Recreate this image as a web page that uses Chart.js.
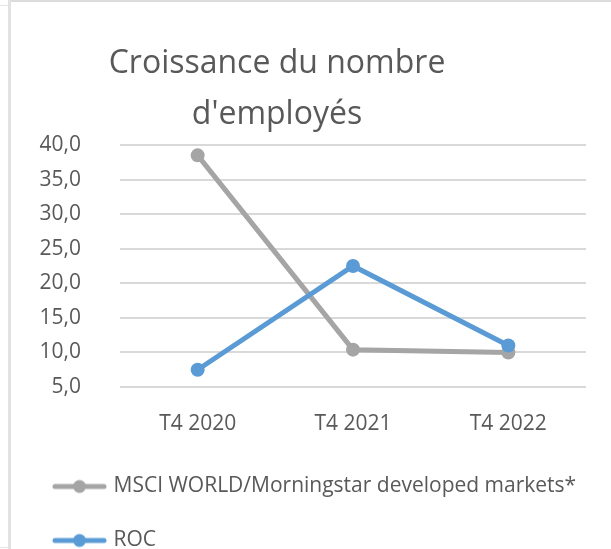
<!DOCTYPE html>
<html>
<head>
<meta charset="utf-8">
<script src="https://cdn.jsdelivr.net/npm/chart.js@4/dist/chart.umd.min.js"></script>
<style>
  html, body { margin: 0; padding: 0; background: #fff; }
  #wrap { position: absolute; left: 0; top: 0; width: 611px; height: 549px; }
  .edge { position: absolute; }
</style>
</head>
<body>
<div class="edge" style="left:8px;top:0;width:3px;height:549px;background:#e2e2e2"></div>
<div class="edge" style="left:11px;top:0;width:600px;height:2px;background:#dcdcdc"></div>
<div class="edge" style="left:0;top:5px;width:8px;height:1px;background:#e6e6e6"></div>
<div class="edge" style="left:0;top:547px;width:8px;height:1px;background:#e6e6e6"></div>
<div id="wrap"><canvas id="chart__line"></canvas></div>
<script>
(() => {

  // Data
  const categories = ['T4 2020', 'T4 2021', 'T4 2022'];
  const msciValues = [38.5, 10.4, 10.0];
  const rocValues = [7.5, 22.5, 11.0];
  const titleLines = ['Croissance du nombre', "d'employés"];

  const textColor = '#595959';
  const fontName = '"Open Sans", "DejaVu Sans", sans-serif';

  // Legend icon: short line with a dot in the middle
  const makeIcon = (color) => {
    const c = document.createElement('canvas');
    c.width = 55;
    c.height = 16;
    const g = c.getContext('2d');
    g.strokeStyle = color;
    g.lineWidth = 5;
    g.lineCap = 'round';
    g.beginPath();
    g.moveTo(3, 8);
    g.lineTo(52, 8);
    g.stroke();
    g.fillStyle = color;
    g.beginPath();
    g.arc(27.5, 8, 6.5, 0, Math.PI * 2);
    g.fill();
    return c;
  };

  // Title drawn left of the plot centre, as in the original
  const titlePlugin = {
    id: 'leftTitle',
    afterDraw(chart) {
      const ctx = chart.ctx;
      ctx.save();
      ctx.font = '32px ' + fontName;
      ctx.fillStyle = textColor;
      ctx.textAlign = 'center';
      ctx.textBaseline = 'alphabetic';
      ctx.fillText(titleLines[0], 277, 73);
      ctx.fillText(titleLines[1], 277, 124);
      ctx.restore();
    }
  };

  const ctxLine = document.querySelector('#chart__line');

  const chartLine = new Chart(ctxLine, {
    type: 'line',
    data: {
      labels: categories,
      datasets: [{
        label: 'MSCI WORLD/Morningstar developed markets*',
        data: msciValues,
        borderColor: '#A5A5A5',
        backgroundColor: '#A5A5A5',
        pointBackgroundColor: '#A5A5A5',
        borderWidth: 5,
        pointRadius: 7,
        pointBorderWidth: 0,
        order: 1
      },
      {
        label: 'ROC',
        data: rocValues,
        borderColor: '#5B9BD5',
        backgroundColor: '#5B9BD5',
        pointBackgroundColor: '#5B9BD5',
        borderWidth: 5,
        pointRadius: 7,
        pointBorderWidth: 0,
        order: 0
      }]
    },
    options: {
      responsive: true,
      maintainAspectRatio: false,
      animation: false,
      layout: {
        padding: { left: 23, right: 25, top: 145, bottom: -12 }
      },
      scales: {
        x: {
          offset: true,
          grid: { display: false },
          border: { display: false },
          ticks: {
            color: textColor,
            font: { family: fontName, size: 21 },
            padding: 16,
            maxRotation: 0
          },
          afterFit: (scale) => { scale.height = 56; }
        },
        y: {
          min: 5,
          max: 40,
          grid: { color: '#d9d9d9', lineWidth: 2, drawTicks: false },
          border: { display: false },
          ticks: {
            stepSize: 5,
            color: textColor,
            font: { family: fontName, size: 21 },
            padding: 39,
            callback: (v) => v.toFixed(1).replace('.', ',')
          },
          afterFit: (scale) => { scale.width = 97; }
        }
      },
      plugins: {
        title: { display: false },
        tooltip: { enabled: false },
        legend: {
          position: 'bottom',
          align: 'start',
          labels: {
            color: textColor,
            font: { family: fontName, size: 21 },
            padding: 33,
            usePointStyle: true,
            pointStyleWidth: 47,
            sort: (a, b) => a.datasetIndex - b.datasetIndex,
            generateLabels: (chart) => {
              const items = Chart.defaults.plugins.legend.labels.generateLabels(chart);
              return items.map((item) => {
                item.pointStyle = makeIcon(chart.data.datasets[item.datasetIndex].borderColor);
                return item;
              });
            }
          }
        }
      }
    },
    plugins: [titlePlugin]
  });

})();
</script>
</body>
</html>
